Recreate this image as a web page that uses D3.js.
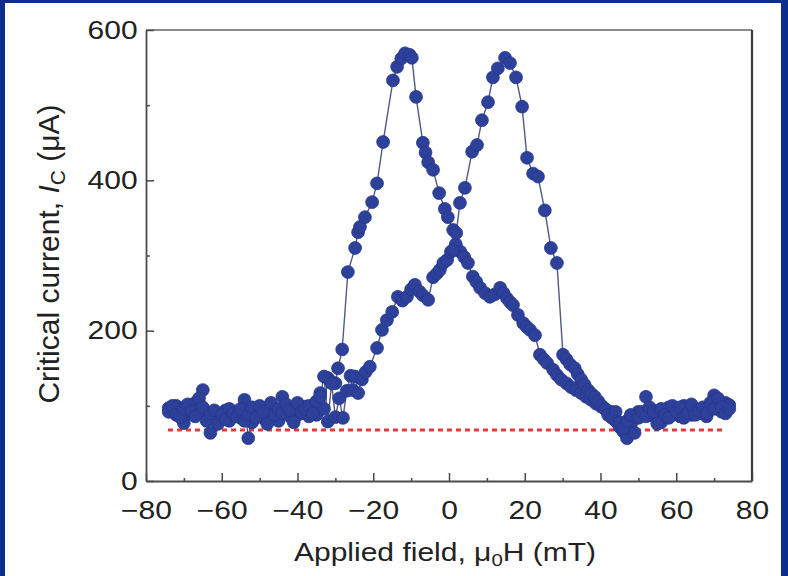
<!DOCTYPE html>
<html>
<head>
<meta charset="utf-8">
<script src="https://cdn.jsdelivr.net/npm/d3@7"></script>
<style>
  body { margin: 0; background: #fff; }
  svg { display: block; font-family: "Liberation Sans", Arial, sans-serif; }
</style>
</head>
<body>
<div id="chart"></div>
<script>
// sweep with the peak on the negative side
const sweepA_H = [-74,-73,-72,-71,-70,-69,-68,-67,-66,-65,-64,-63,-62,-61,-60,-59,-58,-57,-56,-55,
  -54,-53,-52,-51,-50,-49,-48,-47,-46,-45,-44,-43,-42,-41,-40,-39,-38,-37,-36,-35,-34,-33,-32,-31,-30,
  -29.3,-28.2,-26.7,-24.8,-24.0,-23.5,-22.2,-20.3,-19.0,-17.4,-14.8,-13.7,-12.6,-11.6,-10.4,-9.8,-8.7,
  -6.9,-6.2,-5.5,-4.2,-2.6,-1.1,-0.3,1.1,1.8,3.0,4.0,5.0,6.3,7.2,8.2,9.5,10.8,12.0,13.5,14.4,15.3,16.1,
  16.9,18.2,19.6,20.5,21.4,22.7,24.0,25.0,25.9,27.5,28.5,29.6,31.0,32.2,33.5,34.9,36.2,37.5,38.8,40.1,
  41.4,42.8,44,45,46,47,48,49,50,51,52,53,54,55,56,57,58,59,60,61,62,63,64,65,66,67,68,69,70,71,72,73,74];
const sweepA_Ic = [97,92,100,95,77,90,98,104,96,121,88,64,82,90,86,94,80,88,92,84,
  108,57,78,86,90,84,94,88,96,80,112,92,86,95,88,90,99,86,92,88,117,96,137,132,130,
  150,175,278,310,331,338,351,371,396,451,533,551,562,569,567,563,511,
  450,437,424,414,383,362,351,334,315,305,298,290,272,265,257,250,245,248,257,250,243,238,
  234,221,210,205,201,194,168,162,157,148,141,135,130,125,121,117,112,108,103,99,
  95,92,80,72,66,57,75,86,92,88,112,94,86,90,78,92,98,88,94,86,100,92,88,96,90,94,86,98,114,96,92,104,101];

// sweep with the peak on the positive side
const sweepB_H = [-74,-73,-72,-71,-70,-69,-68,-67,-66,-65,-64,-63,-62,-61,-60,-59,-58,-57,-56,-55,
  -54,-53,-52,-51,-50,-49,-48,-47,-46,-45,-44,-43,-42,-41,-40,-39,-38,-37,-36,-35,-34,-33,-32,-31,-30,
  -29,-28,-27,-26,-25.5,-24.8,-24.0,-23.0,-22.0,-20.9,-19.0,-17.7,-16.4,-15.0,-13.5,-12.3,-11.1,-10.0,
  -9.0,-7.8,-6.9,-5.5,-4.2,-3.2,-2.4,-1.5,-0.5,0.5,1.1,1.9,2.9,4.2,6.1,7.4,8.7,10.3,11.6,12.9,14.8,16.1,
  17.7,19.3,20.6,22.2,23.5,25.3,26.9,28.5,30.1,31.0,32.0,33.2,34.0,34.9,35.8,36.7,37.6,38.5,39.4,40.3,
  41.2,42,43,44,45,46,47,48,49,50,51,52,53,54,55,56,57,58,59,60,61,62,63,64,65,66,67,68,69,70,71,72,73,74];
const sweepB_Ic = [92,100,88,85,96,102,92,86,110,98,80,90,94,76,88,82,96,90,86,96,
  80,88,98,84,100,92,76,104,88,96,90,102,94,78,104,92,96,100,90,106,112,139,79,130,85,
  110,84,120,140,121,139,117,135,145,152,177,201,214,225,245,240,245,255,
  261,252,247,241,271,276,281,290,294,305,307,330,370,390,438,447,480,504,537,549,563,556,
  537,498,430,409,405,360,310,290,168,162,155,150,142,135,128,121,116,112,106,100,
  96,88,84,92,78,70,80,88,64,84,92,86,98,92,76,96,88,84,100,92,98,84,90,102,88,94,98,90,104,96,110,98,90,96];

// red dotted baseline
const baseIc = 68;
const baseH = [-74.2, 73.1];

const xTicks = [-80, -60, -40, -20, 0, 20, 40, 60, 80];
const xMinor = [-70, -50, -30, -10, 10, 30, 50, 70];
const yTicks = [0, 200, 400, 600];
const yMinor = [100, 300, 500];

const width = 788, height = 576;
const plot = {left: 146, right: 752, top: 30, bottom: 481};
const sx = 1.2; // horizontal stretch of the original figure text
const dotColor = "#2d409a";

const svg = d3.select("#chart").append("svg")
  .attr("width", width).attr("height", height);

svg.append("rect").attr("width", width).attr("height", height).attr("fill", "#fff");

const x = d3.scaleLinear().domain([-80, 80]).range([plot.left, plot.right]);
const y = d3.scaleLinear().domain([0, 600]).range([plot.bottom, plot.top]);

// frame
svg.append("line").attr("x1", plot.left).attr("x2", plot.right).attr("y1", plot.top).attr("y2", plot.top)
  .attr("stroke", "#8a8a8a").attr("stroke-width", 2.2);
svg.append("line").attr("x1", plot.right).attr("x2", plot.right).attr("y1", plot.top).attr("y2", plot.bottom)
  .attr("stroke", "#3a3a3a").attr("stroke-width", 2.2);

// minor ticks
svg.append("g").attr("transform", `translate(0,${plot.bottom})`)
  .call(d3.axisBottom(x).tickValues(xMinor).tickSize(-3).tickSizeOuter(0).tickFormat(""))
  .call(g => g.select(".domain").remove());
svg.append("g").attr("transform", `translate(${plot.left},0)`)
  .call(d3.axisLeft(y).tickValues(yMinor).tickSize(-4).tickSizeOuter(0).tickFormat(""))
  .call(g => g.select(".domain").remove());

const xAxis = svg.append("g").attr("transform", `translate(0,${plot.bottom})`)
  .call(d3.axisBottom(x).tickValues(xTicks).tickSize(-8).tickSizeOuter(0).tickPadding(20)
    .tickFormat(d => d < 0 ? "\u2212" + Math.abs(d) : d));
const yAxis = svg.append("g").attr("transform", `translate(${plot.left},0)`)
  .call(d3.axisLeft(y).tickValues(yTicks).tickSize(-8).tickSizeOuter(0).tickPadding(7));

[xAxis, yAxis].forEach(g => {
  g.select(".domain").attr("stroke", "#4a4a4a").attr("stroke-width", 1.8);
  g.selectAll(".tick text").attr("font-size", 25).attr("fill", "#222")
    .attr("font-family", "Liberation Sans, Arial, sans-serif")
    .attr("transform", `scale(${sx},1)`);
});
svg.selectAll(".tick line").attr("stroke", "#4a4a4a").attr("stroke-width", 1.5);

// dotted baseline
svg.append("line")
  .attr("x1", x(baseH[0])).attr("x2", x(baseH[1]))
  .attr("y1", y(baseIc)).attr("y2", y(baseIc))
  .attr("stroke", "#e23a3a").attr("stroke-width", 3)
  .attr("stroke-dasharray", "5,4");

const line = d3.line().x(d => x(d[0])).y(d => y(d[1]));
const sweeps = [
  d3.zip(sweepA_H, sweepA_Ic),
  d3.zip(sweepB_H, sweepB_Ic)
];

sweeps.forEach(pts => {
  svg.append("path").datum(pts).attr("d", line)
    .attr("fill", "none").attr("stroke", "#505a85").attr("stroke-width", 1.4);
});
sweeps.forEach(pts => {
  svg.append("g").selectAll("circle").data(pts).join("circle")
    .attr("cx", d => x(d[0])).attr("cy", d => y(d[1])).attr("r", 6.4)
    .attr("fill", dotColor).attr("stroke", "#26378a").attr("stroke-width", 0.8);
});

// axis titles
const xt = svg.append("text")
  .attr("transform", `translate(445,561) scale(${sx},1)`)
  .attr("text-anchor", "middle").attr("font-size", 25).attr("fill", "#222");
xt.append("tspan").text("Applied field, \u03bc");
xt.append("tspan").attr("font-size", 17).attr("dy", 5).text("0");
xt.append("tspan").attr("dy", -5).text("H (mT)");

const yt = svg.append("text")
  .attr("transform", `translate(59,254) rotate(-90)`)
  .attr("text-anchor", "middle").attr("font-size", 30).attr("fill", "#222");
yt.append("tspan").text("Critical current, ");
yt.append("tspan").attr("font-style", "italic").text("I");
yt.append("tspan").attr("font-size", 21).attr("dy", 6).text("C");
yt.append("tspan").attr("dy", -6).text(" (\u03bcA)");

// blue slide border
const borderColor = "#0b2d8e";
svg.append("rect").attr("x", 0).attr("y", 0).attr("width", width).attr("height", 3).attr("fill", borderColor);
svg.append("rect").attr("x", 0).attr("y", 0).attr("width", 5).attr("height", height).attr("fill", borderColor);
svg.append("rect").attr("x", width - 7).attr("y", 0).attr("width", 7).attr("height", height).attr("fill", borderColor);
</script>
</body>
</html>
